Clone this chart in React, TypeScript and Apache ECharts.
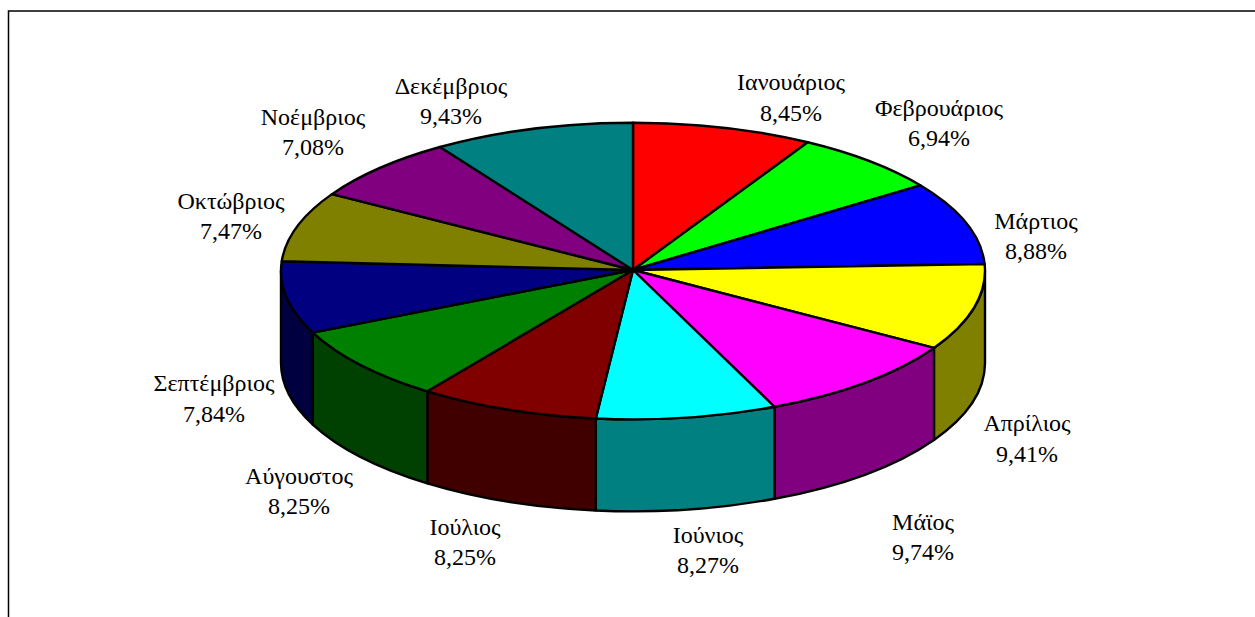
import React, { useEffect, useRef } from "react";
import * as echarts from "echarts";

const months = ["Ιανουάριος", "Φεβρουάριος", "Μάρτιος", "Απρίλιος", "Μάϊος", "Ιούνιος", "Ιούλιος", "Αύγουστος", "Σεπτέμβριος", "Οκτώβριος", "Νοέμβριος", "Δεκέμβριος"];
const shares = [8.45, 6.94, 8.88, 9.41, 9.74, 8.27, 8.25, 8.25, 7.84, 7.47, 7.08, 9.43];
const topColors = ["#ff0000", "#00ff00", "#0000ff", "#ffff00", "#ff00ff", "#00ffff", "#800000", "#008000", "#000080", "#808000", "#800080", "#008080"];
const wallColors = ["#800000", "#008000", "#000080", "#808000", "#800080", "#008080", "#400000", "#004000", "#000040", "#404000", "#400040", "#004040"];
const labelCentres = [[791, 97.5], [939, 123], [1036, 236], [1027, 438.5], [923, 537], [708, 550], [465, 542], [299, 491], [214, 398.5], [231, 216], [313, 132], [451, 101]];

const CX = 633, CY = 271, HUB_Y = 270, RX = 352, RY = 148.3, DEPTH = 92;
const PERSPECTIVE = 0.026;
const total = shares.reduce((a, b) => a + b, 0);
const startAngle = (i: number) => {
  const a = (shares.slice(0, i).reduce((s, v) => s + v, 0) / total) * 2 * Math.PI;
  // the far half of the tilted disc is slightly foreshortened
  return a - PERSPECTIVE * Math.sin(a) * Math.max(0, Math.cos(a));
};
const px = (a: number) => CX + RX * Math.sin(a);
const py = (a: number) => CY - RY * Math.cos(a);
const f = (n: number) => n.toFixed(2);

function topPath(a0: number, a1: number) {
  const large = a1 - a0 > Math.PI ? 1 : 0;
  return `M${CX} ${HUB_Y}L${f(px(a0))} ${f(py(a0))}A${RX} ${RY} 0 ${large} 1 ${f(px(a1))} ${f(py(a1))}Z`;
}

function wallPath(a0: number, a1: number) {
  const lo = Math.max(a0, Math.PI / 2);
  const hi = Math.min(a1, (3 * Math.PI) / 2);
  if (hi <= lo) return null;
  return `M${f(px(lo))} ${f(py(lo))}A${RX} ${RY} 0 0 1 ${f(px(hi))} ${f(py(hi))}L${f(px(hi))} ${f(py(hi) + DEPTH)}A${RX} ${RY} 0 0 0 ${f(px(lo))} ${f(py(lo) + DEPTH)}Z`;
}

const lineStyle = { stroke: "#000", lineWidth: 2.4, lineJoin: "round" };

export default function App() {
  const ref = useRef<HTMLDivElement>(null);
  useEffect(() => {
    document.body.style.margin = "0";
    document.body.style.overflow = "hidden";
    const chart = echarts.init(ref.current!, null, { renderer: "svg" });
    chart.setOption({
      animation: false,
      backgroundColor: "#fff",
      graphic: [
        {
          type: "rect",
          z: -1,
          shape: { x: 8.5, y: 11, width: 1400, height: 800 },
          style: { fill: "#fff", stroke: "#000", lineWidth: 1.5 },
          silent: true,
        },
      ],
      series: [
        {
          type: "custom",
          coordinateSystem: "none",
          silent: true,
          data: shares,
          renderItem: (params: any) => {
            const i = params.dataIndex;
            const d = wallPath(startAngle(i), startAngle(i + 1));
            if (!d) return { type: "group", children: [] };
            return { type: "path", shape: { pathData: d }, style: { fill: wallColors[i], ...lineStyle } };
          },
        },
        {
          type: "custom",
          coordinateSystem: "none",
          silent: true,
          data: shares,
          renderItem: (params: any) => {
            const i = params.dataIndex;
            return {
              type: "path",
              shape: { pathData: topPath(startAngle(i), startAngle(i + 1)) },
              style: { fill: topColors[i], ...lineStyle },
            };
          },
        },
        {
          type: "custom",
          coordinateSystem: "none",
          silent: true,
          data: shares,
          renderItem: (params: any) => {
            const i = params.dataIndex;
            return {
              type: "text",
              x: labelCentres[i][0],
              y: labelCentres[i][1],
              style: {
                text: `${months[i]}\n${shares[i].toFixed(2).replace(".", ",")}%`,
                fontFamily: "Liberation Serif",
                fontSize: 24,
                lineHeight: 30.5,
                fill: "#000",
                align: "center",
                verticalAlign: "middle",
              },
            };
          },
        },
      ],
    });
    return () => chart.dispose();
  }, []);
  return <div ref={ref} style={{ width: 1255, height: 617 }} />;
}
